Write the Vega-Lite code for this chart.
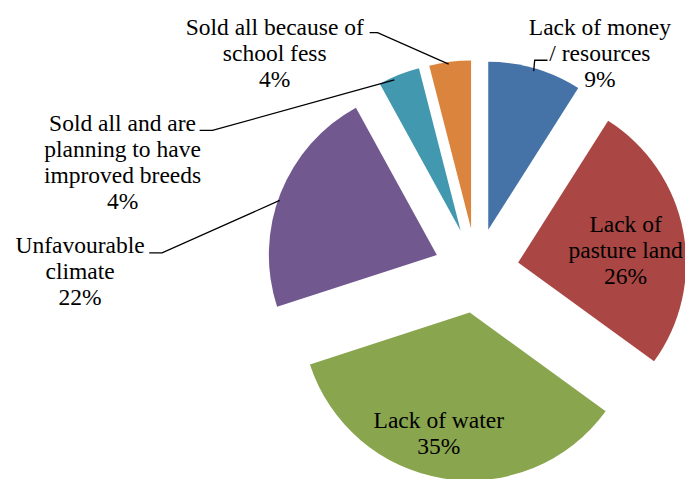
{
  "$schema": "https://vega.github.io/schema/vega-lite/v6.json",
  "width": 685,
  "height": 479,
  "autosize": {"type": "fit", "contains": "padding"},
  "padding": 0,
  "background": "white",
  "config": {"view": {"stroke": null}},
  "datasets": {
    "slices": [
      {"k": 1, "cat": "Lack of money / resources", "value": 9},
      {"k": 2, "cat": "Lack of pasture land", "value": 26},
      {"k": 3, "cat": "Lack of water", "value": 35},
      {"k": 4, "cat": "Unfavourable climate", "value": 22},
      {"k": 5, "cat": "Sold all and are planning to have improved breeds", "value": 4},
      {"k": 6, "cat": "Sold all because of school fess", "value": 4}
    ],
    "labels": [
      {"text": "Sold all because of\nschool fess\n4%", "u": -1.2143, "v": 1.4226},
      {"text": "Sold all and are\nplanning to have\nimproved breeds\n4%", "u": -2.131, "v": 0.8393},
      {"text": "Unfavourable\nclimate\n22%", "u": -2.3869, "v": 0.1071},
      {"text": "Lack of money\n/ resources\n9%", "u": 0.744, "v": 1.4226},
      {"text": "Lack of\npasture land\n26%", "u": 0.8988, "v": 0.2321},
      {"text": "Lack of water\n35%", "u": -0.2262, "v": -0.9464}
    ],
    "leaders": [
      {"id": "school", "seq": 1, "u": -0.6429, "v": 1.4345},
      {"id": "school", "seq": 2, "u": -0.5952, "v": 1.4345},
      {"id": "school", "seq": 3, "u": -0.1667, "v": 1.244},
      {"id": "breeds", "seq": 1, "u": -1.6667, "v": 0.8452},
      {"id": "breeds", "seq": 2, "u": -1.5893, "v": 0.8452},
      {"id": "breeds", "seq": 3, "u": -0.494, "v": 1.1488},
      {"id": "climate", "seq": 1, "u": -1.9702, "v": 0.1071},
      {"id": "climate", "seq": 2, "u": -1.8929, "v": 0.1071},
      {"id": "climate", "seq": 3, "u": -1.1845, "v": 0.4226},
      {"id": "money", "seq": 1, "u": 0.3452, "v": 1.2024},
      {"id": "money", "seq": 2, "u": 0.3512, "v": 1.2679},
      {"id": "money", "seq": 3, "u": 0.4286, "v": 1.2679}
    ]
  },
  "layer": [
    {
      "data": {"name": "slices"},
      "transform": [
        {"window": [{"op": "sum", "field": "value", "as": "cum"}], "sort": [{"field": "k"}], "frame": [null, 0]},
        {"calculate": "datum.cum - datum.value", "as": "t0"},
        {"calculate": "(datum.cum - datum.value / 2) * 2 * PI / 100", "as": "mid"},
        {"calculate": "0.256 * sin(datum.mid)", "as": "ox"},
        {"calculate": "0.256 * cos(datum.mid)", "as": "oy"}
      ],
      "mark": {"type": "arc", "outerRadius": 168},
      "encoding": {
        "x": {"field": "ox", "type": "quantitative", "scale": {"domain": [-2.869, 1.2083], "zero": false, "nice": false}, "axis": null},
        "y": {"field": "oy", "type": "quantitative", "scale": {"domain": [-1.2202, 1.631], "zero": false, "nice": false}, "axis": null},
        "theta": {"field": "t0", "type": "quantitative", "scale": {"domain": [0, 100], "zero": true, "nice": false}},
        "theta2": {"field": "cum"},
        "color": {
          "field": "cat",
          "type": "nominal",
          "scale": {
            "domain": ["Lack of money / resources", "Lack of pasture land", "Lack of water", "Unfavourable climate", "Sold all and are planning to have improved breeds", "Sold all because of school fess"],
            "range": ["#4572A7", "#AA4643", "#89A54E", "#71588F", "#4198AF", "#DB843D"]
          },
          "legend": null
        }
      }
    },
    {
      "data": {"name": "leaders"},
      "mark": {"type": "line", "color": "black", "strokeWidth": 1.3},
      "encoding": {
        "x": {"field": "u", "type": "quantitative"},
        "y": {"field": "v", "type": "quantitative"},
        "detail": {"field": "id"},
        "order": {"field": "seq"}
      }
    },
    {
      "data": {"name": "labels"},
      "mark": {"type": "text", "font": "Liberation Serif", "fontSize": 23.5, "lineBreak": "\n", "lineHeight": 26, "align": "center", "baseline": "alphabetic", "color": "black"},
      "encoding": {
        "x": {"field": "u", "type": "quantitative"},
        "y": {"field": "v", "type": "quantitative"},
        "text": {"field": "text"}
      }
    }
  ]
}
